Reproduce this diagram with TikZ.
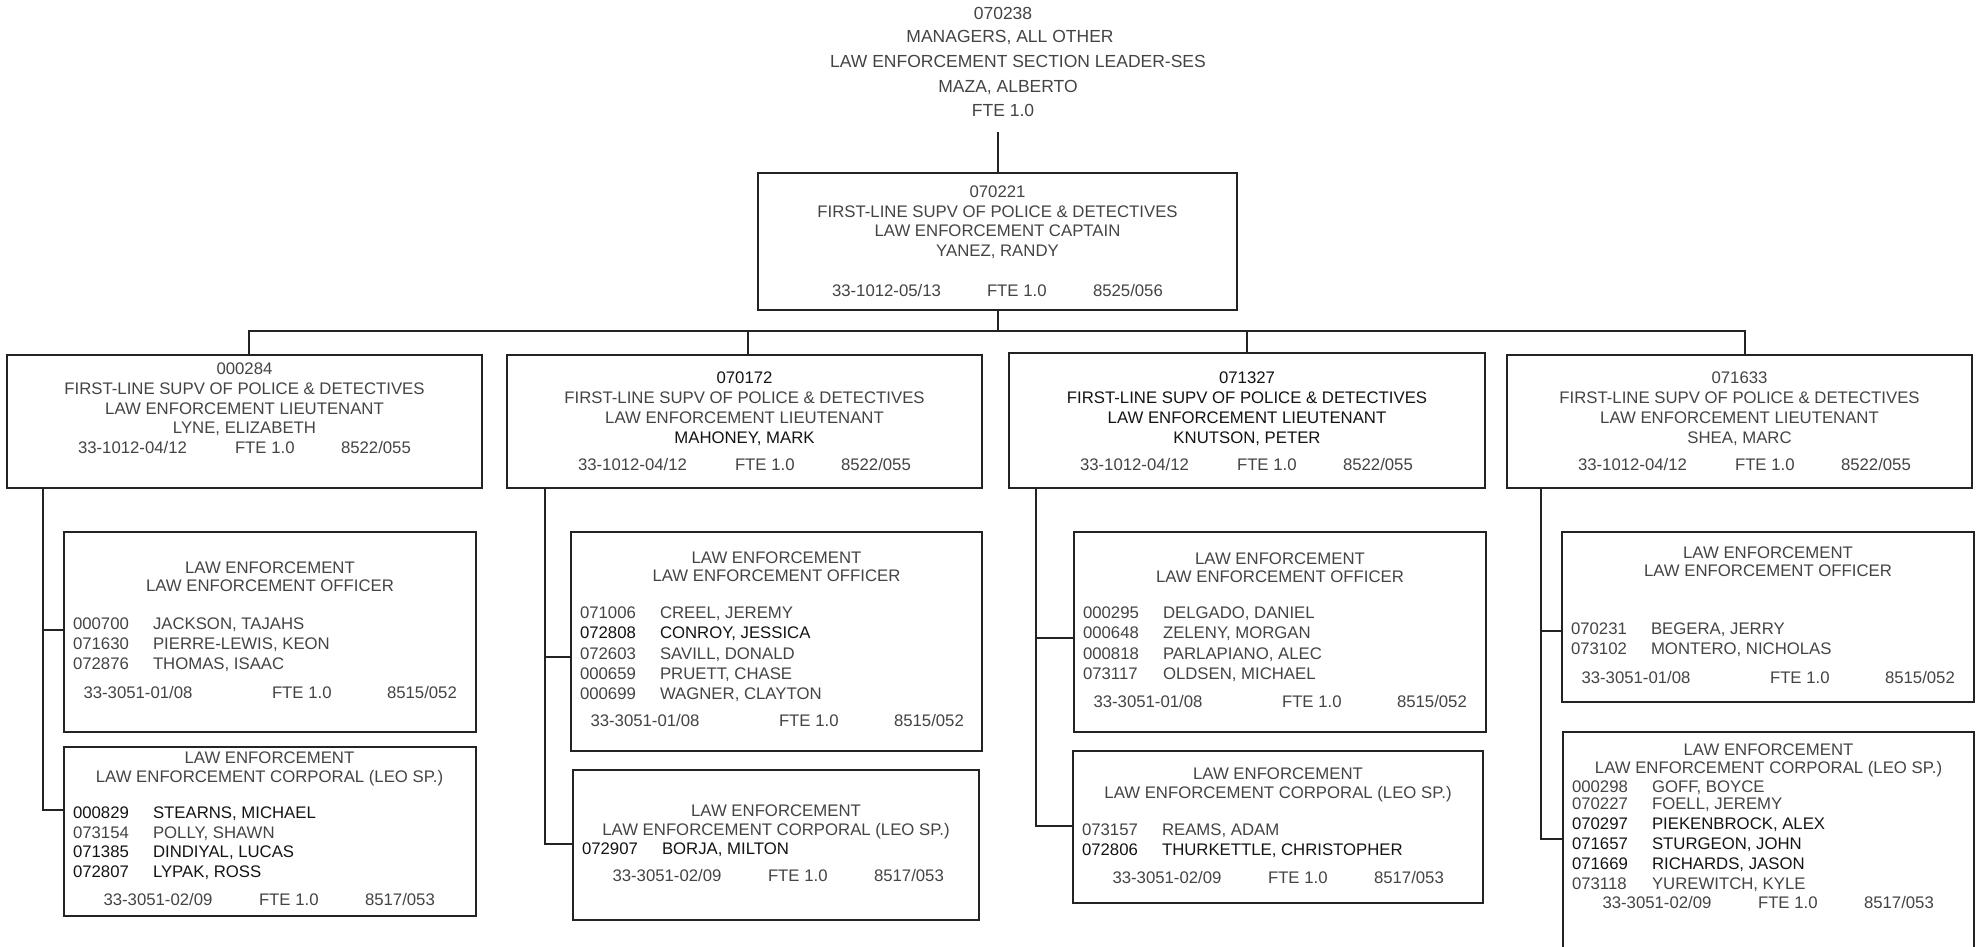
\documentclass[tikz,border=0pt]{standalone}
\usepackage{fontspec}
\setmainfont{Liberation Sans}
\usetikzlibrary{fit,calc}
\definecolor{inkgray}{RGB}{68,68,68}
\definecolor{inkdark}{RGB}{20,20,20}
\definecolor{rulecol}{RGB}{35,35,35}

% text helpers: centred line, left-aligned item, staff row
\newcommand\orgc[4]{\node[#4,anchor=base] (#1) at (#2) {#3};}
\newcommand\orgl[4]{\node[#4,anchor=base west] (#1) at (#2) {#3};}
\newcommand\orgstaff[5]{%
  \node[#5,anchor=base west] (#1a) at (9,#2) {#3};
  \node[#5,anchor=base west] (#1b) at (89,#2) {#4};}
% footers of the three kinds of position boxes
\newcommand\orgof[2]{\orgl{#1a}{19.5,#2}{33-3051-01/08}{gt}\orgl{#1b}{208,#2}{FTE 1.0}{gt}\orgl{#1c}{323,#2}{8515/052}{gt}}
\newcommand\orgcf[2]{\orgl{#1a}{39.5,#2}{33-3051-02/09}{gt}\orgl{#1b}{195,#2}{FTE 1.0}{gt}\orgl{#1c}{301,#2}{8517/053}{gt}}
\newcommand\orglf[2]{\orgl{#1a}{71,#2}{33-1012-04/12}{gt}\orgl{#1b}{228,#2}{FTE 1.0}{gt}\orgl{#1c}{334,#2}{8522/055}{gt}}

\begin{document}
\begin{tikzpicture}[x=0.5pt,y=-0.5pt,
  gt/.style={inner sep=0pt,outer sep=0pt,text=inkgray,font=\fontsize{8.375pt}{10pt}\selectfont},
  dt/.style={gt,text=inkdark},
  ht/.style={gt,font=\fontsize{8.75pt}{10pt}\selectfont},
  box/.style={draw=rulecol,line width=1pt,inner sep=0pt,outer sep=0pt},
  link/.style={draw=rulecol,line width=1pt}]

\useasboundingbox (0,0) rectangle (1980,947);
\fill[white] (0,0) rectangle (1980,947);
\clip (0,0) rectangle (1980,947);

% ---- section leader (no box) ----
\orgc{h1}{1003,20}{070238}{ht}
\orgc{h2}{1010,43}{MANAGERS, ALL OTHER}{ht}
\orgc{h3}{1018,68}{LAW ENFORCEMENT SECTION LEADER-SES}{ht}
\orgc{h4}{1008,93}{MAZA, ALBERTO}{ht}
\orgc{h5}{1003,117}{FTE 1.0}{ht}
\coordinate (hf) at (997.5,132);

% ---- captain ----
\node[box,fit={(758,173) (1237,310)}] (cap) {};
\orgc{cap1}{997.5,197}{070221}{gt}
\orgc{cap2}{997.5,217}{FIRST-LINE SUPV OF POLICE \& DETECTIVES}{gt}
\orgc{cap3}{997.5,236}{LAW ENFORCEMENT CAPTAIN}{gt}
\orgc{cap4}{997.5,256}{YANEZ, RANDY}{gt}
\orgl{cap5}{832,296}{33-1012-05/13}{gt}
\orgl{cap6}{987,296}{FTE 1.0}{gt}
\orgl{cap7}{1093,296}{8525/056}{gt}

% ---- lieutenants ----
\node[box,fit={(7,355) (482,488)}] (l1) {};
\node[box,fit={(507,355) (982,488)}] (l2) {};
\node[box,fit={(1009,353) (1485,488)}] (l3) {};
\node[box,fit={(1507,355) (1972,488)}] (l4) {};

\begin{scope}[shift={(l1.north west)}]
  \orgc{l1a}{237.5,19}{000284}{gt}
  \orgc{l1b}{237.5,39}{FIRST-LINE SUPV OF POLICE \& DETECTIVES}{gt}
  \orgc{l1c}{237.5,59}{LAW ENFORCEMENT LIEUTENANT}{gt}
  \orgc{l1d}{237.5,78}{LYNE, ELIZABETH}{gt}
  \orglf{l1f}{98}
\end{scope}
\begin{scope}[shift={(l2.north west)}]
  \orgc{l2a}{237.5,28}{070172}{dt}
  \orgc{l2b}{237.5,48}{FIRST-LINE SUPV OF POLICE \& DETECTIVES}{gt}
  \orgc{l2c}{237.5,68}{LAW ENFORCEMENT LIEUTENANT}{gt}
  \orgc{l2d}{237.5,88}{MAHONEY, MARK}{dt}
  \orglf{l2f}{115}
\end{scope}
\begin{scope}[shift={(l3.north west)}]
  \orgc{l3a}{238,30}{071327}{dt}
  \orgc{l3b}{238,50}{FIRST-LINE SUPV OF POLICE \& DETECTIVES}{dt}
  \orgc{l3c}{238,70}{LAW ENFORCEMENT LIEUTENANT}{dt}
  \orgc{l3d}{238,90}{KNUTSON, PETER}{dt}
  \orglf{l3f}{117}
\end{scope}
\begin{scope}[shift={(l4.north west)}]
  \orgc{l4a}{232.5,28}{071633}{gt}
  \orgc{l4b}{232.5,48}{FIRST-LINE SUPV OF POLICE \& DETECTIVES}{gt}
  \orgc{l4c}{232.5,68}{LAW ENFORCEMENT LIEUTENANT}{gt}
  \orgc{l4d}{232.5,88}{SHEA, MARC}{gt}
  \orglf{l4f}{115}
\end{scope}

% ---- officer groups ----
\node[box,fit={(64,532) (476,732)}] (o1) {};
\node[box,fit={(571,532) (982,751)}] (o2) {};
\node[box,fit={(1074,532) (1486,732)}] (o3) {};
\node[box,fit={(1562,532) (1974,702)}] (o4) {};

\begin{scope}[shift={(o1.north west)}]
  \orgc{o1t}{206,41}{LAW ENFORCEMENT}{gt}
  \orgc{o1u}{206,59}{LAW ENFORCEMENT OFFICER}{gt}
  \orgstaff{o1r1}{97}{000700}{JACKSON, TAJAHS}{gt}
  \orgstaff{o1r2}{117}{071630}{PIERRE-LEWIS, KEON}{gt}
  \orgstaff{o1r3}{137}{072876}{THOMAS, ISAAC}{gt}
  \orgof{o1f}{166}
\end{scope}
\begin{scope}[shift={(o2.north west)}]
  \orgc{o2t}{205.5,31}{LAW ENFORCEMENT}{gt}
  \orgc{o2u}{205.5,49}{LAW ENFORCEMENT OFFICER}{gt}
  \orgstaff{o2r1}{86}{071006}{CREEL, JEREMY}{gt}
  \orgstaff{o2r2}{106}{072808}{CONROY, JESSICA}{dt}
  \orgstaff{o2r3}{127}{072603}{SAVILL, DONALD}{gt}
  \orgstaff{o2r4}{147}{000659}{PRUETT, CHASE}{gt}
  \orgstaff{o2r5}{167}{000699}{WAGNER, CLAYTON}{gt}
  \orgof{o2f}{194}
\end{scope}
\begin{scope}[shift={(o3.north west)}]
  \orgc{o3t}{206,32}{LAW ENFORCEMENT}{gt}
  \orgc{o3u}{206,50}{LAW ENFORCEMENT OFFICER}{gt}
  \orgstaff{o3r1}{86}{000295}{DELGADO, DANIEL}{gt}
  \orgstaff{o3r2}{106}{000648}{ZELENY, MORGAN}{gt}
  \orgstaff{o3r3}{127}{000818}{PARLAPIANO, ALEC}{gt}
  \orgstaff{o3r4}{147}{073117}{OLDSEN, MICHAEL}{gt}
  \orgof{o3f}{175}
\end{scope}
\begin{scope}[shift={(o4.north west)}]
  \orgc{o4t}{206,26}{LAW ENFORCEMENT}{gt}
  \orgc{o4u}{206,44}{LAW ENFORCEMENT OFFICER}{gt}
  \orgstaff{o4r1}{102}{070231}{BEGERA, JERRY}{gt}
  \orgstaff{o4r2}{122}{073102}{MONTERO, NICHOLAS}{gt}
  \orgof{o4f}{151}
\end{scope}

% ---- corporal groups ----
\node[box,fit={(64,747) (476,916)}] (c1) {};
\node[box,fit={(573,770) (979,920)}] (c2) {};
\node[box,fit={(1073,751) (1483,903)}] (c3) {};
\node[box,fit={(1563,732) (1974,960)}] (c4) {};

\begin{scope}[shift={(c1.north west)}]
  \orgc{c1t}{205.5,16}{LAW ENFORCEMENT}{gt}
  \orgc{c1u}{205.5,35}{LAW ENFORCEMENT CORPORAL (LEO SP.)}{gt}
  \orgstaff{c1r1}{71}{000829}{STEARNS, MICHAEL}{dt}
  \orgstaff{c1r2}{91}{073154}{POLLY, SHAWN}{gt}
  \orgstaff{c1r3}{110}{071385}{DINDIYAL, LUCAS}{dt}
  \orgstaff{c1r4}{130}{072807}{LYPAK, ROSS}{dt}
  \orgcf{c1f}{158}
\end{scope}
\begin{scope}[shift={(c2.north west)}]
  \orgc{c2t}{203,46}{LAW ENFORCEMENT}{gt}
  \orgc{c2u}{203,65}{LAW ENFORCEMENT CORPORAL (LEO SP.)}{gt}
  \orgstaff{c2r1}{84}{072907}{BORJA, MILTON}{dt}
  \orgcf{c2f}{111}
\end{scope}
\begin{scope}[shift={(c3.north west)}]
  \orgc{c3t}{205,28}{LAW ENFORCEMENT}{gt}
  \orgc{c3u}{205,47}{LAW ENFORCEMENT CORPORAL (LEO SP.)}{gt}
  \orgstaff{c3r1}{84}{073157}{REAMS, ADAM}{gt}
  \orgstaff{c3r2}{104}{072806}{THURKETTLE, CHRISTOPHER}{dt}
  \orgcf{c3f}{132}
\end{scope}
\begin{scope}[shift={(c4.north west)}]
  \orgc{c4t}{205.5,23}{LAW ENFORCEMENT}{gt}
  \orgc{c4u}{205.5,41}{LAW ENFORCEMENT CORPORAL (LEO SP.)}{gt}
  \orgstaff{c4r1}{60}{000298}{GOFF, BOYCE}{gt}
  \orgstaff{c4r2}{77}{070227}{FOELL, JEREMY}{gt}
  \orgstaff{c4r3}{97}{070297}{PIEKENBROCK, ALEX}{dt}
  \orgstaff{c4r4}{117}{071657}{STURGEON, JOHN}{dt}
  \orgstaff{c4r5}{137}{071669}{RICHARDS, JASON}{dt}
  \orgstaff{c4r6}{157}{073118}{YUREWITCH, KYLE}{gt}
  \orgcf{c4f}{176}
\end{scope}

% ---- reporting lines ----
\draw[link] (hf) -- (cap.north);
\coordinate (bus) at (997.5,331);
\draw[link] (cap.south) -- (bus);
\draw[link] ($(l1.north)+(4.5,0)$) |- (bus) -| ($(l4.north)+(5.5,0)$);
\draw[link] ($(l2.north)+(3.5,0)$) |- (bus);
\draw[link] (l3.north) |- (bus);

\draw[link] ($(l1.south west)+(36,0)$) |- ($(o1.north west)+(0,98)$);
\draw[link] ($(l1.south west)+(36,0)$) |- ($(c1.north west)+(0,63)$);
\draw[link] ($(l2.south west)+(38,0)$) |- ($(o2.north west)+(0,125)$);
\draw[link] ($(l2.south west)+(38,0)$) |- ($(c2.north west)+(0,74)$);
\draw[link] ($(l3.south west)+(27,0)$) |- ($(o3.north west)+(0,106)$);
\draw[link] ($(l3.south west)+(27,0)$) |- ($(c3.north west)+(0,75)$);
\draw[link] ($(l4.south west)+(34,0)$) |- ($(o4.north west)+(0,99)$);
\draw[link] ($(l4.south west)+(34,0)$) |- ($(c4.north west)+(0,107)$);
\end{tikzpicture}
\end{document}
